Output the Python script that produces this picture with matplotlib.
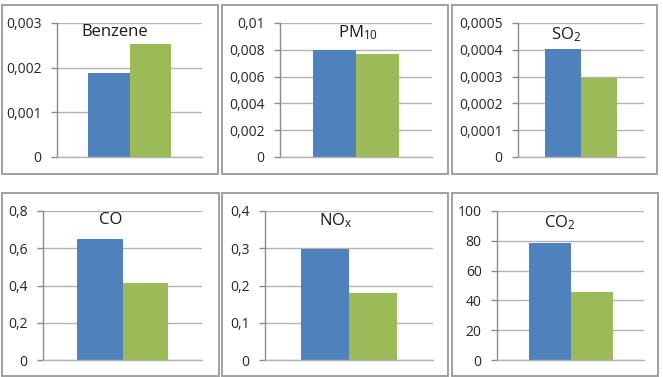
import matplotlib
matplotlib.use("Agg")
import matplotlib.pyplot as plt
from matplotlib.patches import Rectangle

plt.rcParams['font.family'] = ['Open Sans', 'DejaVu Sans']
plt.rcParams['mathtext.default'] = 'regular'

# ---- data ----
titles = ["Benzene", "PM$_{10}$", "SO$_2$", "CO", "NO$_x$", "CO$_2$"]
blue_values = [0.00187, 0.0080, 0.000402, 0.650, 0.298, 78.5]
green_values = [0.00252, 0.0077, 0.000296, 0.415, 0.181, 45.5]
ytick_values = [
    [0, 0.001, 0.002, 0.003],
    [0, 0.002, 0.004, 0.006, 0.008, 0.01],
    [0, 0.0001, 0.0002, 0.0003, 0.0004, 0.0005],
    [0, 0.2, 0.4, 0.6, 0.8],
    [0, 0.1, 0.2, 0.3, 0.4],
    [0, 20, 40, 60, 80, 100],
]
ytick_labels = [
    ["0", "0,001", "0,002", "0,003"],
    ["0", "0,002", "0,004", "0,006", "0,008", "0,01"],
    ["0", "0,0001", "0,0002", "0,0003", "0,0004", "0,0005"],
    ["0", "0,2", "0,4", "0,6", "0,8"],
    ["0", "0,1", "0,2", "0,3", "0,4"],
    ["0", "20", "40", "60", "80", "100"],
]

# ---- layout (pixels) ----
W, H = 663, 377
boxes = [(2, 5, 218, 174), (222, 5, 448, 174), (452, 5, 657, 174),
         (2, 193, 219, 376), (222, 193, 448, 376), (452, 193, 658, 376)]
axes_px = [(57, 23, 202, 157), (280, 23, 432, 157), (518, 23, 644, 157),
           (43, 211, 202, 360), (265, 211, 433, 360), (497, 211, 644, 360)]
title_px = [(115, 32), (358, 33), (566, 35), (111, 220), (336, 221), (560, 223)]

BLUE = "#4F81BD"
GREEN = "#9BBB59"
GRID = "#B3B3B3"
AXIS = "#8C8C8C"
BORDER = "#A0A0A0"

fig = plt.figure(figsize=(W / 100, H / 100), dpi=100)
fig.patch.set_facecolor("white")

for (bx0, by0, bx1, by1) in boxes:
    fig.patches.append(Rectangle((bx0 / W, 1 - by1 / H), (bx1 - bx0) / W, (by1 - by0) / H,
                                 transform=fig.transFigure, fill=False,
                                 edgecolor=BORDER, linewidth=1.4))

for i in range(6):
    x0, y0, x1, y1 = axes_px[i]
    ax = fig.add_axes([x0 / W, 1 - y1 / H, (x1 - x0) / W, (y1 - y0) / H])
    ax.bar([-0.2], [blue_values[i]], width=0.4, color=BLUE, linewidth=0)
    ax.bar([0.2], [green_values[i]], width=0.4, color=GREEN, linewidth=0)
    ax.set_xlim(-0.7, 0.7)
    ax.set_ylim(ytick_values[i][0], ytick_values[i][-1])
    ax.set_yticks(ytick_values[i])
    ax.set_yticklabels(ytick_labels[i], fontsize=10, color="#262626")
    ax.set_xticks([])
    ax.yaxis.grid(True, color=GRID, linewidth=1.0)
    ax.set_axisbelow(True)
    for s in ["top", "right"]:
        ax.spines[s].set_visible(False)
    ax.spines["left"].set_color(AXIS)
    ax.spines["bottom"].set_color(GRID)
    ax.spines["left"].set_linewidth(1.0)
    ax.spines["bottom"].set_linewidth(1.0)
    ax.tick_params(axis="y", direction="out", length=4, width=1.0, color=AXIS, pad=7)
    ax.patch.set_alpha(0)
    tx, ty = title_px[i]
    fig.text(tx / W, 1 - ty / H, titles[i], ha="center", va="center",
             fontsize=12, color="#1a1a1a")

fig.savefig("out.png", dpi=100)
